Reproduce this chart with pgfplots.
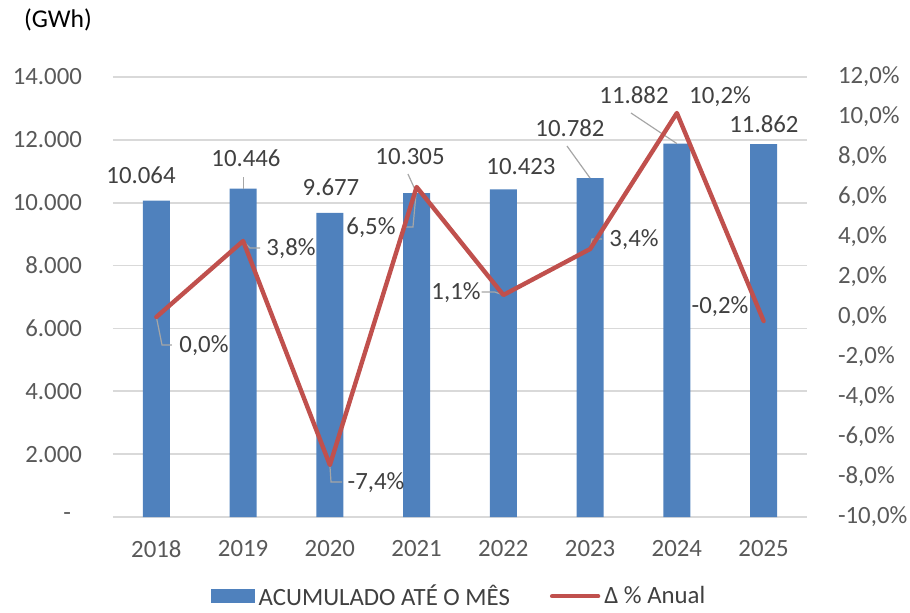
\documentclass[border=0pt]{standalone}
\usepackage{fontspec}
\setmainfont{Carlito}
\usepackage{pgfplots}
\pgfplotsset{compat=1.18}
\usetikzlibrary{calc}

\definecolor{barblue}{HTML}{4F81BD}
\definecolor{linered}{HTML}{C0504D}
\definecolor{tickgray}{HTML}{595959}
\definecolor{labgray}{HTML}{404040}
\definecolor{gridgray}{HTML}{D9D9D9}
\definecolor{leadgray}{HTML}{A6A6A6}

\begin{document}
\begin{tikzpicture}[
  lab/.style={font=\fontsize{12.4}{14}\selectfont, text=labgray, inner sep=0pt},
  lead/.style={draw=leadgray, line width=0.6pt},
]
\pgfplotsset{
  base/.style={
    width=347pt, height=220pt, scale only axis,
    xmin=-0.5, xmax=7.5,
    clip=false,
    major tick length=0pt,
    scaled y ticks=false,
    tick label style={font=\fontsize{12.4}{14}\selectfont, text=tickgray},
  }
}
\begin{axis}[
  base,
  ymin=0, ymax=14000,
  ytick={0,2000,4000,6000,8000,10000,12000,14000},
  yticklabels={-\hspace*{5.5pt},2.000,4.000,6.000,8.000,10.000,12.000,14.000},
  yticklabel style={xshift=-12pt},
  xtick={0,1,2,3,4,5,6,7},
  xticklabels={2018,2019,2020,2021,2022,2023,2024,2025},
  xticklabel style={yshift=-8pt},
  axis line style={draw=none},
  ymajorgrids, grid style={gridgray, line width=0.9pt},
  legend columns=2,
  legend style={at={(0.5,-0.180)}, anchor=center, draw=none, fill=none,
    font=\fontsize{12.4}{14}\selectfont, text=labgray,
    /tikz/every even column/.append style={column sep=18pt},
    inner sep=0pt, cells={anchor=west}},
]
\coordinate (sw) at (rel axis cs:0,0);
\addplot[ybar, bar width=13.5pt, fill=barblue, draw=none,
  legend image code/.code={\fill[barblue] (0pt,-3.5pt) rectangle (22pt,3.5pt);}]
  coordinates {(0,10064) (1,10446) (2,9677) (3,10305) (4,10423) (5,10782) (6,11882) (7,11862)};
\addlegendentry{ACUMULADO ATÉ O MÊS}
\addlegendimage{linered, line width=2.2pt, line cap=round,
  legend image code/.code={\draw[linered, line width=2.2pt, line cap=round] (0pt,0pt) -- (23pt,0pt);}}
\addlegendentry{Δ \% Anual}
% bar value labels
\node[lab] at (axis cs:-0.177,10882) {10.064};
\node[lab] at (axis cs:1.033,11423) {10.446};
\node[lab] at (axis cs:2.013,10500) {9.677};
\node[lab] at (axis cs:2.924,11455) {10.305};
\node[lab] at (axis cs:4.203,11136) {10.423};
\node[lab] at (axis cs:4.768,12377) {10.782};
\node[lab] at (axis cs:5.506,13427) {11.882};
\node[lab] at (axis cs:7.004,12504) {11.862};
\draw[lead] (axis cs:1,10446) -- (axis cs:1,10818);
\draw[lead] (axis cs:3,10305) -- (axis cs:2.90,10914);
\draw[lead] (axis cs:5,10782) -- (axis cs:4.733,11805);
\draw[lead] (axis cs:6,11882) -- (axis cs:5.471,12855);
\node[font=\fontsize{12.8}{14}\selectfont, text=black, inner sep=0pt]
  at (rel axis cs:-0.0793,1.1295) {(GWh)};
\end{axis}

\begin{axis}[
  base,
  ymin=-10, ymax=12,
  axis x line=none,
  axis y line*=right,
  axis line style={draw=none},
  ytick={-10,-8,-6,-4,-2,0,2,4,6,8,10,12},
  yticklabels={{-10,0\%},{-8,0\%},{-6,0\%},{-4,0\%},{-2,0\%},{0,0\%},{2,0\%},{4,0\%},{6,0\%},{8,0\%},{10,0\%},{12,0\%}},
  yticklabel style={xshift=12pt},
]
\draw[lead] (axis cs:0,0) -- (axis cs:0.065,-1.4) -- (axis cs:0.18,-1.4);
\draw[lead] (axis cs:1,3.8) -- (axis cs:1.079,3.45) -- (axis cs:1.195,3.45);
\draw[lead] (axis cs:2,-7.4) -- (axis cs:2.013,-8.25) -- (axis cs:2.14,-8.25);
\draw[lead] (axis cs:3,6.5) -- (axis cs:2.958,4.5) -- (axis cs:2.843,4.5);
\draw[lead] (axis cs:4,1.1) -- (axis cs:3.9,1.25) -- (axis cs:3.75,1.25);
\draw[lead] (axis cs:5,3.4) -- (axis cs:5.022,3.9) -- (axis cs:5.137,3.9);
\addplot[linered, line width=2.2pt, line join=round, line cap=round, mark=none]
  coordinates {(0,0.0) (1,3.8) (2,-7.4) (3,6.5) (4,1.1) (5,3.4) (6,10.2) (7,-0.2)};
\node[lab] at (axis cs:0.549,-1.45) {0,0\%};
\node[lab] at (axis cs:1.552,3.4) {3,8\%};
\node[lab] at (axis cs:2.532,-8.3) {-7,4\%};
\node[lab] at (axis cs:2.474,4.45) {6,5\%};
\node[lab] at (axis cs:3.454,1.2) {1,1\%};
\node[lab] at (axis cs:5.506,3.85) {3,4\%};
\node[lab] at (axis cs:6.497,11.0) {10,2\%};
\node[lab] at (axis cs:6.497,0.5) {-0,2\%};
\end{axis}

\pgfresetboundingbox
\path[use as bounding box] ($(sw)+(-56.5pt,-47.5pt)$) rectangle ($(sw)+(398.5pt,258.5pt)$);
\end{tikzpicture}
\end{document}
